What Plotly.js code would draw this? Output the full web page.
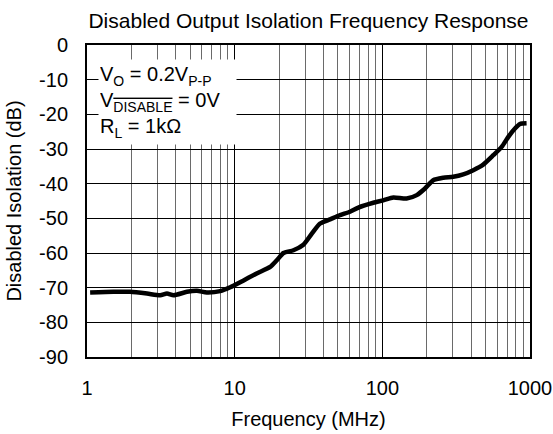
<!DOCTYPE html>
<html>
<head>
<meta charset="utf-8">
<script src="https://cdn.plot.ly/plotly-3.0.1.min.js"></script>
<style>html,body{margin:0;padding:0;background:#fff;}#chart{width:553px;height:434px;}</style>
</head>
<body>
<div id="chart"></div>
<script>
var freqMHz = [1.05, 1.51, 1.96, 2.55, 3.13, 3.48, 3.86, 4.75, 5.55, 6.48, 7.98, 9.33, 11.5, 14.1, 17.4, 19.3, 21.4, 25.0, 29.2, 33.3, 37.9, 44.3, 51.7, 60.4, 68.8, 86.9, 101.6, 118.7, 146, 171, 194.5, 221, 259, 302, 353, 413, 482, 564, 643, 713, 791, 855, 948];
var isolationDB = [-71.4, -71.2, -71.2, -71.7, -72.2, -71.7, -72.2, -71.2, -70.9, -71.4, -71.0, -69.9, -67.9, -65.9, -64.0, -62.1, -60.0, -59.2, -57.6, -54.4, -51.5, -50.3, -49.1, -48.1, -46.9, -45.5, -44.8, -44.0, -44.3, -43.3, -41.4, -39.0, -38.3, -38.0, -37.3, -36.1, -34.5, -31.8, -29.4, -26.5, -24.1, -22.8, -22.6];
var xTickVals = [1, 10, 100, 1000];
var xTickText = ['1', '10', '100', '1000'];
var yTickVals = [0, -10, -20, -30, -40, -50, -60, -70, -80, -90];
var yTickText = ['0', '-10', '-20', '-30', '-40', '-50', '-60', '-70', '-80', '-90'];

var FONT = 'Liberation Sans, Arial, sans-serif';

var trace = {
  x: freqMHz,
  y: isolationDB,
  type: 'scatter',
  mode: 'lines',
  line: {color: '#000', width: 4.5, shape: 'spline', smoothing: 0.6},
  hoverinfo: 'skip'
};

var layout = {
  width: 553,
  height: 434,
  margin: {l: 87, r: 23, t: 45, b: 77, pad: 0},
  paper_bgcolor: '#fff',
  plot_bgcolor: '#fff',
  showlegend: false,
  font: {family: FONT, size: 20, color: '#000'},
  title: {
    text: 'Disabled Output Isolation Frequency Response',
    font: {family: FONT, size: 21, color: '#000'},
    xref: 'paper', x: 0.5, xanchor: 'center',
    yref: 'container', y: 0.953, yanchor: 'middle'
  },
  xaxis: {
    type: 'log',
    range: [0, 3],
    tickvals: xTickVals,
    ticktext: xTickText,
    ticks: '',
    ticklabelstandoff: 12,
    showgrid: true,
    gridcolor: '#000',
    gridwidth: 1,
    minor: {showgrid: true, gridcolor: '#6a6a6a', gridwidth: 1, dtick: 'D1', ticks: ''},
    showline: true, linecolor: '#000', linewidth: 2, mirror: true,
    zeroline: false,
    tickfont: {family: FONT, size: 20, color: '#000'},
    title: {text: 'Frequency (MHz)', font: {family: FONT, size: 20, color: '#000'}, standoff: 14}
  },
  yaxis: {
    range: [-90, 0],
    tickvals: yTickVals,
    ticktext: yTickText,
    ticks: '',
    ticklabelstandoff: 13,
    showgrid: true,
    gridcolor: '#000',
    gridwidth: 1,
    showline: true, linecolor: '#000', linewidth: 2, mirror: true,
    zeroline: false,
    tickfont: {family: FONT, size: 20, color: '#000'},
    title: {text: 'Disabled Isolation (dB)', font: {family: FONT, size: 20, color: '#000'}, standoff: 12}
  },
  annotations: [{
    xref: 'paper', yref: 'paper',
    x: 0.0255, y: 0.955,
    xanchor: 'left', yanchor: 'top',
    align: 'left',
    showarrow: false,
    bgcolor: '#fff',
    borderpad: 1,
    width: 135,
    height: 82,
    font: {family: FONT, size: 20, color: '#000'},
    text: 'V<sub>O</sub> = 0.2V<sub>P-P</sub><br>V<sub><span style="text-decoration:overline">DISABLE</span></sub> = 0V<br>R<sub>L</sub> = 1kΩ'
  }]
};

Plotly.newPlot('chart', [trace], layout, {displayModeBar: false, staticPlot: true});
</script>
</body>
</html>
